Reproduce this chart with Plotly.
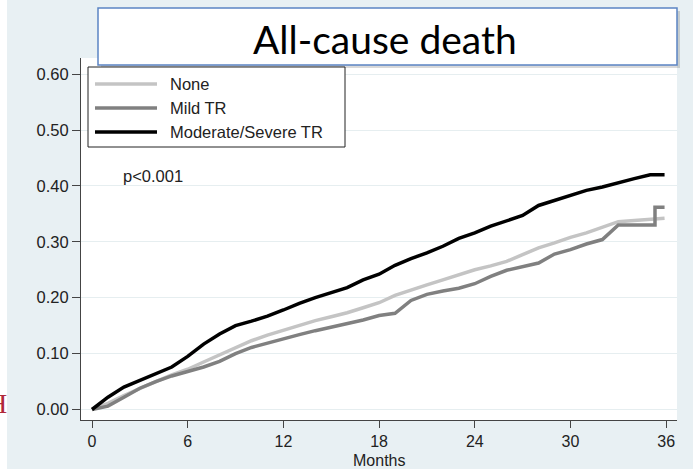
import plotly.graph_objects as go

# ---------------- data ----------------
series_names = ["None", "Mild TR", "Moderate/Severe TR"]
series_colors = ["#c4c4c4", "#808080", "#000000"]

months_none = list(range(0, 36)) + [35.9]
risk_none = [0.000, 0.011, 0.025, 0.038, 0.050, 0.062, 0.072, 0.085, 0.098, 0.111,
             0.123, 0.133, 0.142, 0.151, 0.159, 0.166, 0.173, 0.182, 0.191, 0.204,
             0.214, 0.223, 0.232, 0.241, 0.250, 0.257, 0.265, 0.277, 0.289, 0.298,
             0.308, 0.316, 0.326, 0.336, 0.338, 0.340, 0.342]

months_mild = list(range(0, 33)) + [33.0, 34, 35, 35.3, 35.3, 35.9]
risk_mild = [0.000, 0.006, 0.022, 0.038, 0.050, 0.060, 0.068, 0.076, 0.086, 0.100,
             0.111, 0.119, 0.127, 0.134, 0.141, 0.147, 0.153, 0.160, 0.168, 0.172,
             0.195, 0.206, 0.212, 0.217, 0.225, 0.238, 0.249, 0.255, 0.262, 0.278,
             0.286, 0.296, 0.304, 0.330, 0.330, 0.330, 0.330, 0.362, 0.362]

months_ms = list(range(0, 36)) + [35.9]
risk_ms = [0.000, 0.022, 0.040, 0.052, 0.063, 0.076, 0.095, 0.117, 0.135, 0.150,
           0.158, 0.167, 0.178, 0.190, 0.200, 0.209, 0.218, 0.232, 0.242, 0.258,
           0.270, 0.280, 0.292, 0.306, 0.316, 0.328, 0.338, 0.347, 0.365, 0.374,
           0.382, 0.392, 0.398, 0.406, 0.413, 0.420, 0.420]

x_ticks = [0, 6, 12, 18, 24, 30, 36]
y_ticks = [0.0, 0.1, 0.2, 0.3, 0.4, 0.5, 0.6]
y_tick_labels = ["0.00", "0.10", "0.20", "0.30", "0.40", "0.50", "0.60"]

title_text = "All-cause death"
pvalue_text = "p<0.001"
x_title = "Months"

# ---------------- layout geometry (pixels) ----------------
W, H = 693, 469
L, R, T, B = 81, 16, 58, 49
PW, PH = W - L - R, H - T - B


def px(x):
    return (x - L) / PW


def py(y):
    return (H - B - y) / PH


fig = go.Figure()
for name, color, xs, ys in zip(series_names, series_colors,
                               [months_none, months_mild, months_ms],
                               [risk_none, risk_mild, risk_ms]):
    fig.add_trace(go.Scatter(x=xs, y=ys, mode="lines", name=name,
                             line=dict(color=color, width=3.5, shape="linear"),
                             showlegend=False))

axis_font = dict(family="Liberation Sans, Arial, sans-serif", size=16.5, color="#222222")
xaxis_font = dict(family="Liberation Sans, Arial, sans-serif", size=16, color="#222222")

fig.update_layout(
    width=W, height=H,
    margin=dict(l=L, r=R, t=T, b=B, pad=0, autoexpand=False),
    paper_bgcolor="#e8f0f3",
    plot_bgcolor="#ffffff",
    xaxis=dict(range=[-0.69, 36.68], tickvals=x_ticks, ticks="outside", ticklen=7,
               tickcolor="#444444", tickwidth=1, showline=True, linecolor="#444444",
               linewidth=1, showgrid=False, zeroline=False, tickfont=xaxis_font,
               ticklabelstandoff=0, automargin=False),
    yaxis=dict(range=[-0.0188, 0.6288], tickvals=y_ticks, ticktext=y_tick_labels,
               ticks="outside", ticklen=8, tickcolor="#444444", tickwidth=1,
               showline=True, linecolor="#444444", linewidth=1, automargin=False,
               showgrid=True, gridcolor="#e6eef0", gridwidth=1, zeroline=False,
               tickfont=axis_font),
)

shapes = []
# white strip at left edge
shapes.append(dict(type="rect", xref="paper", yref="paper", x0=px(0), x1=px(7),
                   y0=py(469), y1=py(0), fillcolor="#ffffff", line=dict(width=0),
                   layer="below"))
# title box shadow + box
shapes.append(dict(type="rect", xref="paper", yref="paper", x0=px(101), x1=px(680),
                   y0=py(68), y1=py(11), fillcolor="rgba(0,0,0,0.15)",
                   line=dict(width=0)))
shapes.append(dict(type="rect", xref="paper", yref="paper", x0=px(98), x1=px(677),
                   y0=py(65), y1=py(8), fillcolor="#ffffff",
                   line=dict(color="#5b84c4", width=1.5)))
# legend box
shapes.append(dict(type="rect", xref="paper", yref="paper", x0=px(88), x1=px(345),
                   y0=py(147), y1=py(67), fillcolor="#ffffff",
                   line=dict(color="#222222", width=1)))
legend_rows = [84, 108, 132]
for name, color, yy in zip(series_names, series_colors, legend_rows):
    shapes.append(dict(type="line", xref="paper", yref="paper", x0=px(95), x1=px(157),
                       y0=py(yy), y1=py(yy), line=dict(color=color, width=3.5)))
fig.update_layout(shapes=shapes)

annotations = []
annotations.append(dict(text=title_text, xref="paper", yref="paper", x=px(385), y=py(39),
                        xanchor="center", yanchor="middle", showarrow=False,
                        font=dict(family="Lato, Open Sans, sans-serif", size=39,
                                  color="#000000")))
for name, yy in zip(series_names, legend_rows):
    annotations.append(dict(text=name, xref="paper", yref="paper", x=px(168), y=py(yy),
                            xanchor="left", yanchor="middle", showarrow=False,
                            font=axis_font))
annotations.append(dict(text=pvalue_text, xref="paper", yref="paper", x=px(121), y=py(176),
                        xanchor="left", yanchor="middle", showarrow=False,
                        font=axis_font))
annotations.append(dict(text=x_title, xref="paper", yref="paper", x=px(379), y=py(460),
                        xanchor="center", yanchor="middle", showarrow=False,
                        font=xaxis_font))
annotations.append(dict(text="H", xref="paper", yref="paper", x=px(9), y=py(403),
                        xanchor="right", yanchor="middle", showarrow=False,
                        font=dict(family="Liberation Serif, serif", size=28,
                                  color="#b0283a")))
fig.update_layout(annotations=annotations)

fig.write_html("out.html")
